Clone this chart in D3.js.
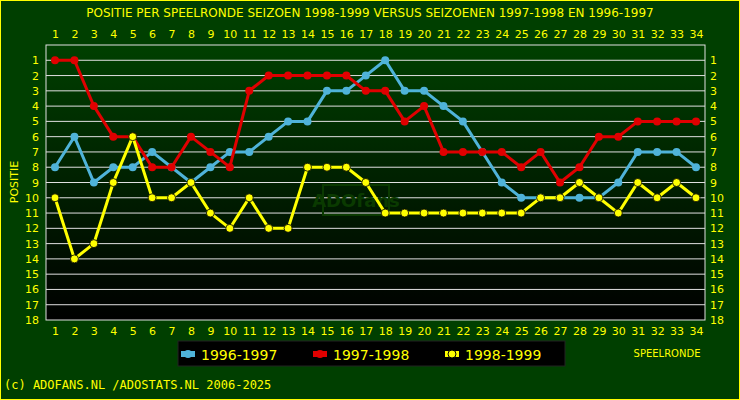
<!DOCTYPE html>
<html><head><meta charset="utf-8">
<script src="https://cdn.jsdelivr.net/npm/d3@7"></script>
<style>body{margin:0;background:#003f00}</style>
</head><body>
<script>
const rounds = d3.range(1, 35);
const ranks = d3.range(1, 19);
const s9697 = [8,6,9,8,8,7,8,9,8,7,7,6,5,5,3,3,2,1,3,3,4,5,7,9,10,10,10,10,10,9,7,7,7,8];
const s9798 = [1,1,4,6,6,8,8,6,7,8,3,2,2,2,2,2,3,3,5,4,7,7,7,7,8,7,9,8,6,6,5,5,5,5];
const s9899 = [10,14,13,9,6,10,10,9,11,12,10,12,12,8,8,8,9,11,11,11,11,11,11,11,11,10,10,9,10,11,9,10,9,10];
const seriesNames = ["1996-1997", "1997-1998", "1998-1999"];
const colors = ["#4fb3d9", "#e00000", "#ffff00"];

const W = 740, H = 400;
const svg = d3.select("body").append("svg").attr("width", W).attr("height", H)
  .style("font-family", "DejaVu Sans");

svg.append("rect").attr("x", 0.5).attr("y", 0.5).attr("width", W - 1).attr("height", H - 1)
  .attr("fill", "#003f00").attr("stroke", "#ffff00");

const pLeft = 46, pRight = 705, pTop = 45, pBottom = 320;
const x = d3.scaleLinear().domain([1, 34]).range([55, 696]);
const y = d3.scaleLinear().domain([0, 18]).range([pTop, pBottom]);

const grad = svg.append("defs").append("linearGradient").attr("id", "bg")
  .attr("x1", 0).attr("x2", 0).attr("y1", 0).attr("y2", 1);
grad.append("stop").attr("offset", "0%").attr("stop-color", "#004000");
grad.append("stop").attr("offset", "100%").attr("stop-color", "#000000");

svg.append("rect").attr("x", pLeft).attr("y", pTop).attr("width", pRight - pLeft).attr("height", pBottom - pTop)
  .attr("fill", "url(#bg)").attr("stroke", "#e0e0e0");

svg.append("g").selectAll("line").data(ranks.slice(0, 17)).join("line")
  .attr("x1", pLeft).attr("x2", pRight).attr("y1", d => y(d)).attr("y2", d => y(d))
  .attr("stroke", "#e0e0e0").attr("stroke-width", 1);

function styleAxis(g) {
  g.select(".domain").remove();
  g.selectAll(".tick line").remove();
  g.selectAll("text").attr("fill", "#ffff00").style("font-size", "11px").style("font-family", "DejaVu Sans");
}
svg.append("g").attr("transform", `translate(0,${pTop - 4})`)
  .call(d3.axisTop(x).tickValues(rounds).tickFormat(d3.format("d")).tickSize(0)).call(styleAxis);
svg.append("g").attr("transform", `translate(0,${pBottom + 4})`)
  .call(d3.axisBottom(x).tickValues(rounds).tickFormat(d3.format("d")).tickSize(0)).call(styleAxis);
svg.append("g").attr("transform", `translate(${pLeft - 4},0)`)
  .call(d3.axisLeft(y).tickValues(ranks).tickFormat(d3.format("d")).tickSize(0)).call(styleAxis);
svg.append("g").attr("transform", `translate(${pRight + 2},0)`)
  .call(d3.axisRight(y).tickValues(ranks).tickFormat(d3.format("d")).tickSize(0)).call(styleAxis);

// watermark
svg.append("rect").attr("x", 323).attr("y", 185).attr("width", 66).attr("height", 30)
  .attr("fill", "none").attr("stroke", "#0a3a00").attr("stroke-width", 2);
svg.append("text").attr("x", 356).attr("y", 207).attr("text-anchor", "middle")
  .attr("fill", "#0a3a00").style("font-size", "18px").style("font-weight", "bold").text("ADOfans");

const line = d3.line().x((d, i) => x(i + 1)).y(d => y(d));
[s9697, s9798, s9899].forEach((s, k) => {
  const g = svg.append("g");
  g.append("path").datum(s).attr("d", line).attr("fill", "none")
    .attr("stroke", colors[k]).attr("stroke-width", 3);
  g.selectAll("circle").data(s).join("circle")
    .attr("cx", (d, i) => x(i + 1)).attr("cy", d => y(d)).attr("r", 4)
    .attr("fill", colors[k]).attr("stroke", k === 2 ? "#000" : "none").attr("stroke-width", 0.8);
});

svg.append("text").attr("x", 370).attr("y", 17).attr("text-anchor", "middle")
  .attr("fill", "#ffff00").style("font-size", "12px")
  .text("POSITIE PER SPEELRONDE SEIZOEN 1998-1999 VERSUS SEIZOENEN 1997-1998 EN 1996-1997");

svg.append("text").attr("transform", "translate(18,182) rotate(-90)").attr("text-anchor", "middle")
  .attr("fill", "#ffff00").style("font-size", "11px").text("POSITIE");
svg.append("text").attr("x", 667).attr("y", 357).attr("text-anchor", "middle")
  .attr("fill", "#ffff00").style("font-size", "10px").text("SPEELRONDE");

const lg = svg.append("g");
lg.append("rect").attr("x", 178).attr("y", 341).attr("width", 387).attr("height", 25)
  .attr("fill", "#000").attr("stroke", "#222");
seriesNames.forEach((n, k) => {
  const lx = 181 + k * 132;
  lg.append("rect").attr("x", lx).attr("y", 351).attr("width", 14).attr("height", 6).attr("fill", colors[k]);
  lg.append("circle").attr("cx", lx + 7).attr("cy", 354).attr("r", 4).attr("fill", colors[k])
    .attr("stroke", k === 2 ? "#000" : "none");
  lg.append("text").attr("x", lx + 20).attr("y", 360).attr("fill", "#ffff00")
    .style("font-size", "14px").text(n);
});

svg.append("text").attr("x", 4).attr("y", 389).attr("fill", "#ffff00")
  .style("font-family", "DejaVu Sans Mono").style("font-size", "12px")
  .text("(c) ADOFANS.NL /ADOSTATS.NL 2006-2025");
</script>
</body></html>
